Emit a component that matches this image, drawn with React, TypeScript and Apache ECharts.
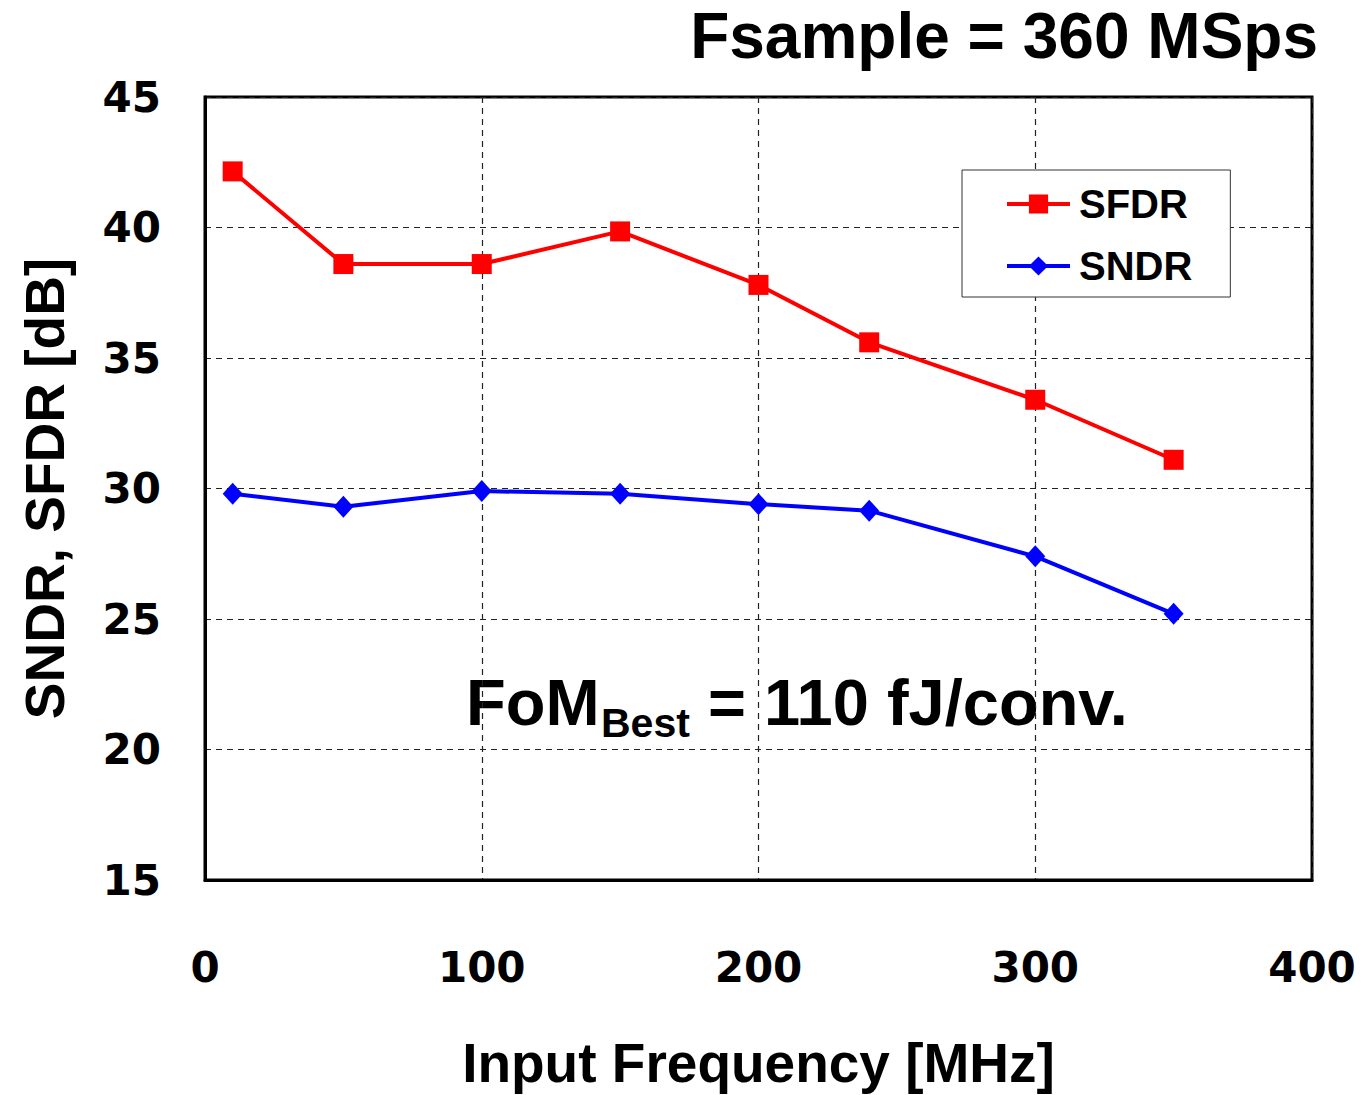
import React, { useEffect, useRef } from "react";
import * as echarts from "echarts";

const freqSFDR = [10, 50, 100, 150, 200, 240, 300, 350];
const valSFDR = [42.15, 38.6, 38.6, 39.85, 37.8, 35.6, 33.4, 31.1];
const freqSNDR = [10, 50, 100, 150, 200, 240, 300, 350];
const valSNDR = [29.8, 29.3, 29.9, 29.8, 29.4, 29.15, 27.4, 25.2];
const seriesNames = ["SFDR", "SNDR"];
const titleText = "Fsample = 360 MSps";
const xName = "Input Frequency [MHz]";
const yName = "SNDR, SFDR [dB]";

const ARIAL = "'Liberation Sans', Arial, sans-serif";
const WIDE = "'DejaVu Sans', 'Liberation Sans', sans-serif";

export default function App() {
  const ref = useRef<HTMLDivElement>(null);
  useEffect(() => {
    if (!ref.current) return;
    const chart = echarts.init(ref.current, null, { renderer: "svg" });
    chart.setOption({
      animation: false,
      backgroundColor: "#fff",
      grid: {
        left: 205,
        right: 52,
        top: 97,
        bottom: 203,
        show: true,
        borderColor: "#000",
        borderWidth: 3,
        backgroundColor: "transparent",
      },
      xAxis: {
        type: "value",
        min: 0,
        max: 400,
        interval: 100,
        name: xName,
        nameLocation: "middle",
        nameGap: 155,
        nameTextStyle: { fontFamily: ARIAL, fontWeight: "bold", fontSize: 55, color: "#000" },
        axisLine: { show: true, lineStyle: { color: "#000", width: 3 } },
        axisTick: { show: false },
        axisLabel: { fontFamily: WIDE, fontWeight: "bold", fontSize: 42, color: "#000", margin: 66 },
        splitLine: { show: true, lineStyle: { color: "#222", width: 1.2, type: [6, 5] } },
      },
      yAxis: {
        type: "value",
        min: 15,
        max: 45,
        interval: 5,
        name: yName,
        nameLocation: "middle",
        nameRotate: 90,
        nameGap: 133,
        nameTextStyle: { fontFamily: ARIAL, fontWeight: "bold", fontSize: 55, color: "#000" },
        axisLine: { show: true, lineStyle: { color: "#000", width: 3 } },
        axisTick: { show: false },
        axisLabel: { fontFamily: WIDE, fontWeight: "bold", fontSize: 42, color: "#000", margin: 44 },
        splitLine: { show: true, lineStyle: { color: "#222", width: 1.2, type: [6, 5] } },
      },
      legend: {
        orient: "vertical",
        left: 962,
        top: 170,
        padding: [14, 38, 11, 43],
        itemWidth: 63,
        itemHeight: 24,
        itemGap: 22,
        backgroundColor: "#fff",
        borderColor: "#333",
        borderWidth: 1,
        lineStyle: { width: 4 },
        textStyle: { fontFamily: ARIAL, fontWeight: "bold", fontSize: 40, color: "#000", padding: [0, 0, 0, 4] },
        data: seriesNames,
      },
      series: [
        {
          name: seriesNames[0],
          type: "line",
          data: freqSFDR.map((f, i) => [f, valSFDR[i]]),
          symbol: "rect",
          symbolSize: 20,
          color: "#ff0000",
          lineStyle: { color: "#ff0000", width: 4 },
          itemStyle: { color: "#ff0000" },
          z: 3,
        },
        {
          name: seriesNames[1],
          type: "line",
          data: freqSNDR.map((f, i) => [f, valSNDR[i]]),
          symbol: "diamond",
          symbolSize: [20, 22],
          color: "#0000ff",
          lineStyle: { color: "#0000ff", width: 4 },
          itemStyle: { color: "#0000ff" },
          z: 3,
        },
      ],
      graphic: [
        {
          type: "text",
          right: 46,
          top: 4,
          style: { text: titleText, font: `bold 64px ${ARIAL}`, fill: "#000" },
        },
        {
          type: "text",
          x: 466,
          y: 702,
          style: { text: "FoM", font: `bold 65px ${ARIAL}`, fill: "#000", align: "left", verticalAlign: "middle" },
        },
        {
          type: "text",
          x: 601,
          y: 723,
          style: { text: "Best", font: `bold 41px ${ARIAL}`, fill: "#000", align: "left", verticalAlign: "middle" },
        },
        {
          type: "text",
          x: 708,
          y: 702,
          style: { text: "= 110 fJ/conv.", font: `bold 65px ${ARIAL}`, fill: "#000", align: "left", verticalAlign: "middle" },
        },
      ],
    });
    return () => chart.dispose();
  }, []);
  return <div ref={ref} style={{ width: 1364, height: 1095, position: "absolute", left: 0, top: 0 }} />;
}
